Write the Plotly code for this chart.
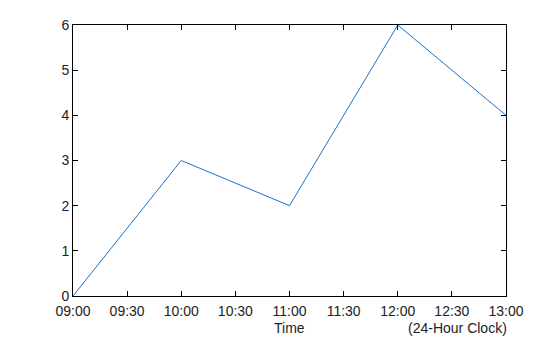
import plotly.graph_objects as go

times = ["2024-01-01 09:00", "2024-01-01 10:00", "2024-01-01 11:00", "2024-01-01 12:00", "2024-01-01 13:00"]
values = [0, 3, 2, 6, 4]

FONT = dict(family="Liberation Sans", size=14, color="#222")

fig = go.Figure()
fig.add_trace(go.Scatter(x=times, y=values, mode="lines",
                         line=dict(color="#1a72cc", width=1)))

axis_common = dict(showgrid=False, zeroline=False, showline=True, linecolor="#000",
                   linewidth=1, mirror="ticks", ticks="inside", ticklen=5,
                   tickcolor="#000", tickfont=FONT)

fig.update_xaxes(type="date", range=["2024-01-01 09:00", "2024-01-01 13:00"],
                 dtick=30 * 60 * 1000, tickformat="%H:%M", ticklabelstandoff=2, **axis_common)
fig.update_yaxes(range=[0, 6], dtick=1, **axis_common)

fig.add_annotation(text="Time", x=0.5, xref="paper", y=0, yref="paper",
                   yanchor="middle", yshift=-32, showarrow=False, font=FONT)
fig.add_annotation(text="(24-Hour Clock)", x=1.0, xref="paper", xanchor="right", xshift=3,
                   y=0, yref="paper", yanchor="middle", yshift=-32, showarrow=False, font=FONT)

fig.update_layout(width=560, height=337, margin=dict(l=73, r=54, t=25, b=41),
                  plot_bgcolor="white", paper_bgcolor="white", showlegend=False)

fig.write_html("out.html")
